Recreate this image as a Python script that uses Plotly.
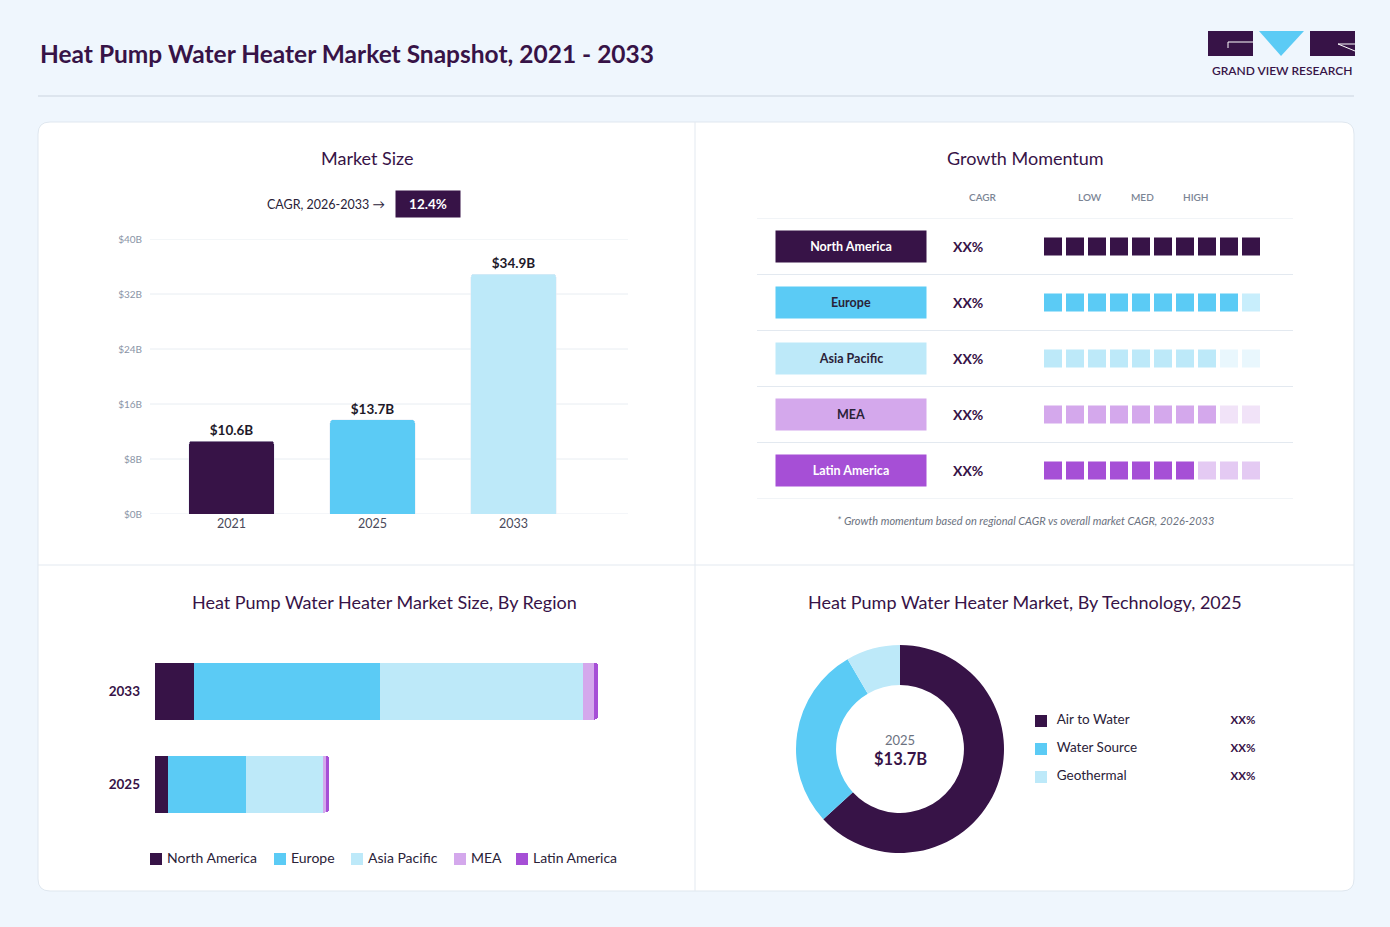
import plotly.graph_objects as go

W, H = 1390, 927

# ---- data ----
years = ["2021", "2025", "2033"]
market_size = [10.6, 13.7, 34.9]
size_ticks = [0, 8, 16, 24, 32, 40]
cagr_period = "CAGR, 2026-2033"
cagr_value = "12.4%"

regions = ["North America", "Europe", "Asia Pacific", "MEA", "Latin America"]
region_cagr = ["XX%", "XX%", "XX%", "XX%", "XX%"]
momentum_filled = [10, 9, 8, 8, 7]
momentum_slots = 10

region_years = ["2025", "2033"]
region_2025 = [1.06, 6.09, 6.07, 0.29, 0.19]
region_2033 = [3.1, 14.6, 16.0, 0.9, 0.3]

technologies = ["Air to Water", "Water Source", "Geothermal"]
tech_share = [63.2, 28.4, 8.4]
tech_labels = ["XX%", "XX%", "XX%"]
tech_year = "2025"
tech_total = 13.7

# ---- styles ----
FONT = "Lato"
DARK = "#371347"
TEXT = "#2a2238"
GREY = "#7b8595"
region_colors = ["#371347", "#5bcbf5", "#bde9f9", "#d4a8ec", "#a64fd6"]
region_faded = ["#d8cfdc", "#c8eefc", "#e9f7fd", "#f1e3f8", "#e4caf3"]
pill_text = ["white", TEXT, TEXT, TEXT, "white"]
tech_colors = ["#371347", "#5bcbf5", "#bde9f9"]
legend_square_x = [156, 280, 357, 460, 522]  # pixel centres of the custom legend squares


def px(x):
    return x / W


def py(y):
    return 1 - y / H


def rounded_rect(x0, y0, x1, y1, r):
    rx, ry = r / W, r / H
    a, b, c, d = px(x0), py(y0), px(x1), py(y1)
    return (f"M{a+rx},{b} L{c-rx},{b} Q{c},{b} {c},{b-ry} L{c},{d+ry} Q{c},{d} {c-rx},{d} "
            f"L{a+rx},{d} Q{a},{d} {a},{d+ry} L{a},{b-ry} Q{a},{b} {a+rx},{b} Z")


def ann(text, x, y, size=12, color=TEXT, weight=400, xanchor="center", **kw):
    d = dict(text=text, x=px(x), y=py(y), xref="paper", yref="paper", showarrow=False,
             xanchor=xanchor, yanchor="middle",
             font=dict(family=FONT, size=size, color=color, weight=weight))
    d.update(kw)
    return d


fig = go.Figure()

# market size bars
fig.add_trace(go.Bar(
    x=years, y=market_size, width=0.603,
    marker=dict(color=region_colors[:3]),
    text=[f"${v}B" for v in market_size], texttemplate="%{text}",
    textposition="outside", cliponaxis=False,
    textfont=dict(family=FONT, size=13.5, color="#1e1a2a", weight=700),
    showlegend=False, hoverinfo="skip", xaxis="x", yaxis="y",
))

# growth momentum squares
for i, reg in enumerate(regions):
    slots = list(range(1, momentum_slots + 1))
    cols = [region_colors[i] if s <= momentum_filled[i] else region_faded[i] for s in slots]
    fig.add_trace(go.Scatter(
        x=slots, y=[reg] * momentum_slots, mode="markers",
        marker=dict(symbol="square", size=18, color=cols, line=dict(width=0)),
        showlegend=False, hoverinfo="skip", xaxis="x3", yaxis="y3",
    ))

# stacked region bars
for i, reg in enumerate(regions):
    fig.add_trace(go.Bar(
        y=region_years, x=[region_2025[i], region_2033[i]], orientation="h",
        width=0.613, name=reg, marker=dict(color=region_colors[i], line=dict(width=0)),
        showlegend=False, hoverinfo="skip", xaxis="x2", yaxis="y2",
    ))

# region legend (custom, tight spacing)
fig.add_trace(go.Scatter(
    x=legend_square_x, y=[0] * len(regions), mode="markers",
    marker=dict(symbol="square", size=12, color=region_colors),
    showlegend=False, hoverinfo="skip", cliponaxis=False, xaxis="x5", yaxis="y5",
))
fig.add_trace(go.Scatter(
    x=[v + 11 for v in legend_square_x], y=[0] * len(regions), mode="text",
    text=regions, textposition="middle right",
    textfont=dict(family=FONT, size=14, color=TEXT),
    showlegend=False, hoverinfo="skip", cliponaxis=False, xaxis="x5", yaxis="y5",
))

# technology donut
fig.add_trace(go.Pie(
    labels=technologies, values=tech_share, hole=0.615, sort=False,
    direction="clockwise", rotation=0, textinfo="none",
    marker=dict(colors=tech_colors, line=dict(width=0)),
    domain=dict(x=[px(796), px(1004)], y=[py(853), py(645)]),
    showlegend=False, hoverinfo="skip",
))

# technology legend
fig.add_trace(go.Scatter(
    x=[0] * len(technologies), y=technologies, mode="markers",
    marker=dict(symbol="square", size=12, color=tech_colors),
    showlegend=False, hoverinfo="skip", cliponaxis=False, xaxis="x4", yaxis="y4",
))
fig.add_trace(go.Scatter(
    x=[0.078] * len(technologies), y=technologies, mode="text",
    text=technologies, textposition="middle right",
    textfont=dict(family=FONT, size=13.5, color=TEXT),
    showlegend=False, hoverinfo="skip", cliponaxis=False, xaxis="x4", yaxis="y4",
))
fig.add_trace(go.Scatter(
    x=[1] * len(technologies), y=technologies, mode="text", text=tech_labels,
    textfont=dict(family=FONT, size=11.5, color=DARK, weight=700),
    showlegend=False, hoverinfo="skip", cliponaxis=False, xaxis="x4", yaxis="y4",
))

shapes = [
    # card
    dict(type="path", path=rounded_rect(38, 122, 1354, 891, 12), xref="paper", yref="paper",
         fillcolor="white", line=dict(color="#dfe7ef", width=1), layer="below"),
    dict(type="line", x0=px(695), x1=px(695), y0=py(122), y1=py(891), xref="paper", yref="paper",
         line=dict(color="#e3e9f0", width=1), layer="below"),
    dict(type="line", x0=px(38), x1=px(1354), y0=py(565), y1=py(565), xref="paper", yref="paper",
         line=dict(color="#e3e9f0", width=1), layer="below"),
    # header rule
    dict(type="line", x0=px(38), x1=px(1354), y0=py(96), y1=py(96), xref="paper", yref="paper",
         line=dict(color="#dde5ee", width=2), layer="below"),
    # logo
    dict(type="rect", x0=px(1208), x1=px(1253), y0=py(31), y1=py(56), xref="paper", yref="paper",
         fillcolor=DARK, line=dict(width=0)),
    dict(type="path", path=f"M{px(1253)},{py(42)} L{px(1228)},{py(42)} L{px(1228)},{py(48)}",
         xref="paper", yref="paper", line=dict(color="white", width=1)),
    dict(type="path", path=f"M{px(1259)},{py(31)} L{px(1304)},{py(31)} L{px(1281)},{py(56)} Z",
         xref="paper", yref="paper", fillcolor="#5bcbf5", line=dict(width=0)),
    dict(type="rect", x0=px(1310), x1=px(1355), y0=py(31), y1=py(56), xref="paper", yref="paper",
         fillcolor=DARK, line=dict(width=0)),
    dict(type="path", path=f"M{px(1355)},{py(44)} L{px(1338)},{py(44)} L{px(1355)},{py(51)}",
         xref="paper", yref="paper", line=dict(color="white", width=1)),
]
# gridlines of the market size chart (wider than the bar area)
for t in size_ticks:
    shapes.append(dict(type="line", x0=px(150), x1=px(628), y0=t, y1=t, xref="paper", yref="y",
                       line=dict(color="#e8edf2", width=1), layer="below"))
# row separators for growth momentum table
for k in range(len(regions) + 1):
    shapes.append(dict(type="line", x0=px(757), x1=px(1293), y0=k - 0.5, y1=k - 0.5,
                       xref="paper", yref="y3", line=dict(color="#e3e9f0", width=1), layer="below"))

annotations = [
    ann("Heat Pump Water Heater Market Snapshot, 2021 - 2033", 38, 54, size=24.5, color=DARK,
        weight=700, xanchor="left"),
    ann("GRAND VIEW RESEARCH", 1282, 71, size=12, color=DARK, weight=600),
    ann("Market Size", 367, 158, size=18, color=DARK),
    ann("Growth Momentum", 1025, 158, size=18, color=DARK),
    ann("Heat Pump Water Heater Market Size, By Region", 384, 602, size=18, color=DARK),
    ann("Heat Pump Water Heater Market, By Technology, 2025", 1025, 602, size=18, color=DARK),
    ann(cagr_period + " \u2192", 387, 204, size=12.5, color=TEXT, xanchor="right"),
    ann(cagr_value, 428, 204, size=13.5, color="white", weight=700, bgcolor=DARK,
        width=64, height=26, borderpad=0),
    ann("CAGR", 983, 197, size=10, color=GREY, weight=600),
    ann("LOW", 1090, 197, size=10, color=GREY, weight=600),
    ann("MED", 1142, 197, size=10, color=GREY, weight=600),
    ann("HIGH", 1196, 197, size=10, color=GREY, weight=600),
    ann("<i>* Growth momentum based on regional CAGR vs overall market CAGR, 2026-2033</i>",
        1025, 520, size=11, color="#6b7280"),
    ann(tech_year, 900, 740, size=13, color="#6b7280"),
    ann(f"${tech_total}B", 900, 759, size=16.5, color=DARK, weight=700),
]
for i, reg in enumerate(regions):
    annotations.append(dict(text=reg, x=px(851), y=reg, xref="paper", yref="y3", showarrow=False,
                            width=150, height=31, borderpad=0, bgcolor=region_colors[i],
                            font=dict(family=FONT, size=12.5, color=pill_text[i], weight=700)))
    annotations.append(dict(text=region_cagr[i], x=px(985), y=reg, xref="paper", yref="y3",
                            showarrow=False, font=dict(family=FONT, size=14, color=DARK, weight=700)))
totals = [sum(region_2025), sum(region_2033)]
for yr, tot in zip(region_years, totals):
    annotations.append(dict(text=f"${tot:.1f}B", x=tot, y=yr, xref="x2", yref="y2",
                            xanchor="left", xshift=6, showarrow=False,
                            font=dict(family=FONT, size=11, color=DARK)))

fig.update_layout(
    width=W, height=H, margin=dict(l=0, r=0, t=0, b=0, pad=0, autoexpand=False),
    paper_bgcolor="#eff6fd", plot_bgcolor="rgba(0,0,0,0)",
    font=dict(family=FONT, color=TEXT),
    barmode="stack", barcornerradius=3,
    shapes=shapes, annotations=annotations,
    xaxis=dict(domain=[px(161), px(584)], type="category", showgrid=False, zeroline=False,
               ticks="", automargin=False, tickfont=dict(size=12.5, color="#4a4a5a")),
    yaxis=dict(domain=[py(514), py(239)], range=[0, 40], tickvals=size_ticks,
               ticktext=[f"${t}B" for t in size_ticks], showgrid=False, zeroline=False,
               ticks="", automargin=False, ticklabelstandoff=18,
               tickfont=dict(size=10, color="#8a94a6")),
    xaxis2=dict(domain=[px(155), px(662.6)], range=[0, 40], visible=False, automargin=False),
    yaxis2=dict(domain=[py(830.5), py(644.5)], type="category", categoryarray=region_years,
                categoryorder="array", range=[-0.5, 1.5], showgrid=False, zeroline=False,
                ticks="", automargin=False, ticklabelstandoff=20,
                tickfont=dict(size=13.5, color=DARK, weight=700)),
    xaxis3=dict(domain=[px(1042), px(1262)], range=[0.5, 10.5], visible=False, automargin=False),
    yaxis3=dict(domain=[py(498.5), py(218.5)], type="category", categoryarray=regions,
                categoryorder="array", range=[4.5, -0.5], visible=False, automargin=False),
    xaxis4=dict(domain=[px(1041), px(1243)], range=[0, 1], visible=False, automargin=False),
    yaxis4=dict(domain=[py(791), py(707)], type="category", categoryarray=technologies,
                categoryorder="array", range=[2.5, -0.5], visible=False, automargin=False),
    xaxis5=dict(domain=[0, 1], range=[0, W], visible=False, automargin=False),
    yaxis5=dict(domain=[py(869), py(849)], range=[-1, 1], visible=False, automargin=False),
)

page_fix = "document.documentElement.style.margin='0';document.body.style.margin='0';"
fig.write_html("out.html", config={"displayModeBar": False}, post_script=page_fix)
